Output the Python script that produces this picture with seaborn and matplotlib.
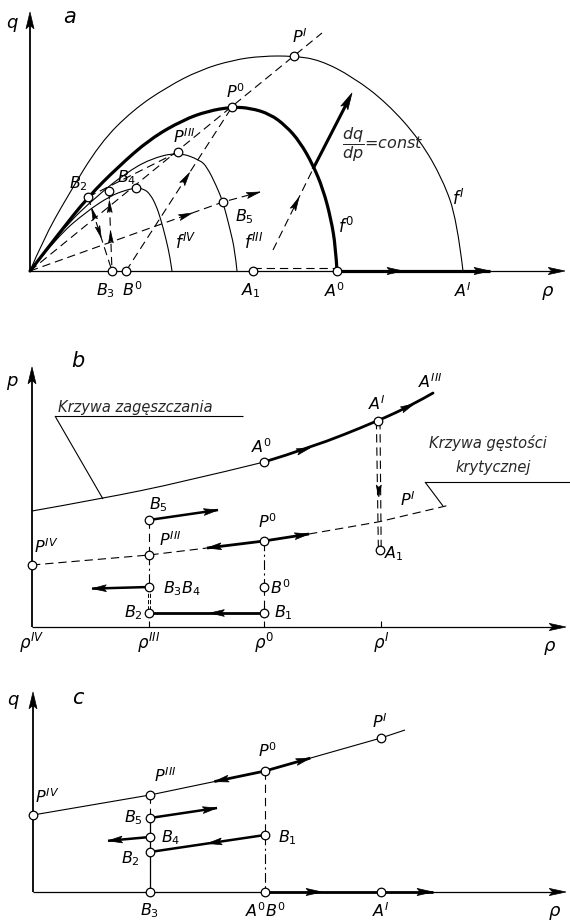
import numpy as np
import matplotlib
matplotlib.use("Agg")
import matplotlib.pyplot as plt
from matplotlib.path import Path
from matplotlib.patches import PathPatch
import seaborn as sns

sns.set_theme(style="white")
plt.rcParams["font.family"] = ["DejaVu Sans"]
plt.rcParams["mathtext.fontset"] = "dejavusans"
plt.rcParams["mathtext.default"] = "it"
plt.rcParams["lines.scale_dashes"] = False

# ---------------- panel a: flow q against density rho ----------------
f1_rho = [0, 3.25, 9.25, 17.5, 25.75, 34.25, 42.5, 50.75, 58, 66, 72.5, 80.75, 89.25, 97.5, 103.25, 106.75, 108.25]
f1_q = [0, 7.75, 18.5, 32, 40.25, 46, 50.25, 52.75, 53.75, 53.75, 52.75, 48.5, 42, 32.75, 22.75, 12.75, 0]

f0_rho = [0, 7.5, 14.5, 22, 30, 38.25, 44.5, 50.5, 55, 60, 64, 67.5, 70.75, 73.25, 75.25, 76.4, 76.75]
f0_q = [0, 9.75, 18.5, 26, 33, 37.75, 40, 41, 40.75, 39.25, 36.25, 32.25, 26.5, 20.5, 13, 6, 0]

f3_rho = [0, 8, 17, 24, 30, 37, 42.5, 44.25, 46.5, 48.25, 50, 51.25, 51.75]
f3_q = [0, 10.5, 19, 24.5, 28, 29.75, 27.75, 26, 21.5, 17.25, 10.5, 5, 0]

f4_rho = [0, 7, 14, 20, 24, 26.5, 28.5, 30, 31.5, 32.75, 34, 35, 35.5]
f4_q = [0, 8.75, 14.75, 18.75, 20.25, 20.75, 20.5, 19.25, 16.5, 12.75, 8, 3.5, 0]

a_names = ["PI", "P0", "PIII", "B4", "Bx", "B2", "B5", "B3", "B0", "A1", "A0", "AI"]
a_rho = [66, 50.5, 37, 26.5, 19.75, 14.5, 48.25, 20.5, 24, 55.75, 76.75, 108.25]
a_q = [53.75, 41, 29.75, 20.75, 20, 18.5, 17.25, 0, 0, 0, 0, 0]

ray_end = (73, 59.5)          # constant-speed ray through the peaks
b5_ray_end = (57.5, 19.75)    # continuation of the ray through B5
dq_start = (60.75, 5.25)      # characteristic dq/dp = const
dq_cross = (70.75, 25.5)
dq_end = (80.5, 44.5)

# ---------------- panel b: space / density picture ----------------
zag_rho = [0, 17, 37.75, 58, 69.5, 86.5, 95.5, 100.25]     # krzywa zageszczania
zag_p = [29, 32, 36.25, 41.25, 44.75, 51.5, 55.75, 58.5]
kr_rho = [0, 29.25, 43.75, 58, 69.25, 86.5, 104.5]        # krzywa gestosci krytycznej
kr_p = [15.5, 18, 19.75, 21.5, 23.25, 26.25, 30.5]

b_names = ["A0", "AI", "A1", "P0", "PIII", "PIV", "B5", "B34", "B2", "B1", "B0"]
b_rho = [58, 86.5, 87, 58, 29.25, 0, 29.25, 29.25, 29.25, 58, 58]
b_p = [41.25, 51.5, 19.25, 21.5, 18, 15.5, 26.75, 10, 3.5, 3.5, 10]
b_ticks = [0, 29.25, 58, 87.25]
b_tick_labels = [r"$\rho^{IV}$", r"$\rho^{III}$", r"$\rho^{0}$", r"$\rho^{I}$"]

# ---------------- panel c: flow q against density rho ----------------
c_line_rho = [0, 29.25, 58, 87, 93]
c_line_q = [19.25, 24.25, 30.25, 38.5, 40.5]
c_names = ["PIV", "PIII", "P0", "PI", "B5", "B4", "B2", "B1", "B3", "A0B0", "AI"]
c_rho = [0, 29.25, 58, 87, 29.25, 29.25, 29.25, 58, 29.25, 58, 87]
c_q = [19.25, 24.25, 30.25, 38.5, 18.5, 13.75, 10, 14.25, 0, 0, 0]

W, H, S = 570, 922, 4.0
fig = plt.figure(figsize=(W / 100, H / 100), dpi=100)
fig.patch.set_facecolor("white")

DASH = (0, (6, 3.5))
DASHDOT = (0, (7, 2.5, 1.5, 2.5))


def panel(ox, oy, top, bottom):
    ax = fig.add_axes([0, 1 - bottom / H, 1, (bottom - top) / H])
    ax.set_facecolor("none")
    ax.axis("off")
    ax._lims = ((-ox / S, (W - ox) / S), ((oy - bottom) / S, (oy - top) / S))
    return ax


def finish(ax):
    ax.set_xlim(*ax._lims[0])
    ax.set_ylim(*ax._lims[1])


def seg(ax, xs, ys, lw=0.8, ls="-"):
    sns.lineplot(x=list(xs), y=list(ys), ax=ax, color="black", lw=lw, linestyle=ls,
                 sort=False, estimator=None, errorbar=None, solid_capstyle="butt")


def smooth(ax, xs, ys, lw=0.8, ls="-"):
    pts = np.column_stack([xs, ys]).astype(float)
    verts, codes = [pts[0]], [Path.MOVETO]
    n = len(pts)
    for i in range(1, n - 1):
        end = (pts[i] + pts[i + 1]) / 2 if i < n - 2 else pts[i + 1]
        verts += [pts[i], end]
        codes += [Path.CURVE3, Path.CURVE3]
    ax.add_patch(PathPatch(Path(verts, codes), fill=False, lw=lw, ec="black",
                           ls=ls, capstyle="round", joinstyle="round"))


def head(ax, tip, frm, length=3.4, width=0.75):
    tip = np.asarray(tip, float)
    u = tip - np.asarray(frm, float)
    u /= np.hypot(*u)
    n = np.array([-u[1], u[0]])
    base = tip - length * u
    notch = tip - 0.8 * length * u
    poly = np.array([tip, base + width * n, notch, base - width * n])
    ax.fill(poly[:, 0], poly[:, 1], color="black", lw=0.5, zorder=4)


def head_on(ax, p0, p1, t, reverse=False, **kw):
    p0, p1 = np.asarray(p0, float), np.asarray(p1, float)
    tip = p0 + t * (p1 - p0)
    if reverse:
        head(ax, tip, tip + (p1 - p0), **kw)
    else:
        head(ax, tip, tip - (p1 - p0), **kw)


def circles(ax, xs, ys):
    sns.scatterplot(x=list(xs), y=list(ys), ax=ax, s=38, marker="o", facecolor="white",
                    edgecolor="black", linewidth=0.9, zorder=6, legend=False)


def lab(ax, x, y, s, size=11.5, **kw):
    ax.text(x, y, s, fontsize=size, ha="center", va="center", color="black", **kw)


# =================== panel a ===================
axA = panel(30, 271, 0, 305)
A = dict(zip(a_names, zip(a_rho, a_q)))

smooth(axA, f1_rho, f1_q, lw=0.8)
smooth(axA, f0_rho, f0_q, lw=2.3)
smooth(axA, f3_rho, f3_q, lw=0.8)
smooth(axA, f4_rho, f4_q, lw=0.8)

# axes
seg(axA, [0, 0], [0, 62], lw=1.3)
head(axA, (0, 64.75), (0, 0), length=4.2, width=1.0)
seg(axA, [0, 131], [0, 0], lw=0.9)
head(axA, (133.75, 0), (0, 0), length=4.2, width=0.9)
seg(axA, [A["A0"][0], 115], [0, 0], lw=2.3)
head(axA, (93.25, 0), (0, 0), length=4.0, width=0.9)
head(axA, (115, 0), (0, 0), length=4.0, width=0.9)
seg(axA, [A["A1"][0], A["A0"][0]], [0.8, 0.8], lw=0.8, ls=DASH)

# rays and wave paths
seg(axA, [0, ray_end[0]], [0, ray_end[1]], ls=DASH)
seg(axA, [0, A["B5"][0], b5_ray_end[0]], [0, A["B5"][1], b5_ray_end[1]], ls=DASH)
head_on(axA, (0, 0), A["B5"], 0.84)
head(axA, b5_ray_end, A["B5"])
seg(axA, [A["B0"][0], A["P0"][0]], [A["B0"][1], A["P0"][1]], ls=DASH)
head_on(axA, A["B0"], A["P0"], 0.6)
seg(axA, [A["B2"][0], A["PIII"][0]], [A["B2"][1], A["PIII"][1]], ls=DASH)
seg(axA, [A["B2"][0], A["B3"][0]], [A["B2"][1], A["B3"][1]], ls=DASH)
head_on(axA, A["B3"], A["B2"], 0.85, length=3.0, width=0.6)
head_on(axA, A["B2"], A["B3"], 0.55, length=3.0, width=0.6)
seg(axA, [A["Bx"][0], A["B3"][0]], [A["Bx"][1], A["B3"][1]], ls=DASH)
head_on(axA, A["B3"], A["Bx"], 0.88, length=3.0, width=0.6)
head_on(axA, A["B3"], A["Bx"], 0.5, length=3.0, width=0.6)

seg(axA, [dq_start[0], dq_cross[0]], [dq_start[1], dq_cross[1]], ls=DASH)
head_on(axA, dq_start, dq_cross, 0.65)
seg(axA, [dq_cross[0], dq_end[0] - 0.6], [dq_cross[1], dq_end[1] - 1.2], lw=2.2)
head(axA, dq_end, dq_cross, length=4.2, width=1.0)

pts_a = [n for n in a_names if n != "AI"]
circles(axA, [A[n][0] for n in pts_a], [A[n][1] for n in pts_a])

lab(axA, -4.5, 61.5, r"$q$", size=13)
lab(axA, 10, 63.5, r"$a$", size=15)
lab(axA, 129.5, -5.5, r"$\rho$", size=13)
lab(axA, 67.5, 58.5, r"$P^{I}$")
lab(axA, 51.5, 44.8, r"$P^{0}$")
lab(axA, 38.5, 33.5, r"$P^{III}$")
lab(axA, 12, 21.75, r"$B_2$")
lab(axA, 24.25, 23.25, r"$B_4$")
lab(axA, 53.5, 13.5, r"$B_5$")
lab(axA, 39, 7, r"$f^{IV}$", size=12)
lab(axA, 56, 7, r"$f^{III}$", size=12)
lab(axA, 79, 11, r"$f^{0}$", size=12)
lab(axA, 107, 18, r"$f^{I}$", size=12)
lab(axA, 19, -4.8, r"$B_3$")
lab(axA, 25.5, -4.6, r"$B^{0}$")
lab(axA, 55.25, -5, r"$A_1$")
lab(axA, 76.25, -5, r"$A^{0}$")
lab(axA, 108.25, -5, r"$A^{I}$")
axA.text(78.0, 31.5, r"$\dfrac{dq}{dp}$=const", fontsize=11.5, ha="left", va="center", style="italic")
finish(axA)

# =================== panel b ===================
axB = panel(32, 627, 330, 660)
B = dict(zip(b_names, zip(b_rho, b_p)))

seg(axB, [0, 0], [0, 62.5], lw=1.3)
head(axB, (0, 65), (0, 0), length=4.2, width=1.0)
seg(axB, [0, 131], [0, 0], lw=0.9)
head(axB, (133.5, 0), (0, 0), length=4.2, width=0.9)
for t in b_ticks[1:]:
    seg(axB, [t, t], [0, 1.6], lw=0.8)

# densification curve: thin up to A0, heavy beyond
k = zag_rho.index(B["A0"][0])
smooth(axB, zag_rho[:k + 1], zag_p[:k + 1], lw=0.8)
smooth(axB, zag_rho[k:], zag_p[k:], lw=2.0)
head(axB, (69.5, 44.75), (57.75, 41.25), length=3.4, width=0.8)
head(axB, (95.5, 55.75), (86.5, 51.5), length=3.4, width=0.8)

# critical density curve
seg(axB, kr_rho[:3], kr_p[:3], ls=DASH)
seg(axB, kr_rho[2:5], kr_p[2:5], lw=2.0)
head(axB, (kr_rho[2], kr_p[2]), (kr_rho[3], kr_p[3]), length=3.6, width=0.85)
head(axB, (kr_rho[4], kr_p[4]), (kr_rho[3], kr_p[3]), length=3.6, width=0.85)
seg(axB, kr_rho[4:], kr_p[4:], ls=DASH)

# verticals
x3, x0 = B["PIII"][0], B["P0"][0]
seg(axB, [x3, x3], [B["B5"][1], B["PIII"][1]], ls=DASH)
seg(axB, [x3, x3], [B["PIII"][1], B["B34"][1]], ls=DASHDOT)
seg(axB, [x3 - 0.3, x3 - 0.3], [B["B34"][1], B["B2"][1]], lw=0.7, ls=(0, (3, 1.5)))
seg(axB, [x3 + 0.3, x3 + 0.3], [B["B34"][1], B["B2"][1]], lw=0.7, ls=(0, (3, 1.5)))
seg(axB, [x0, x0], [B["P0"][1], B["B0"][1]], ls=DASHDOT)
seg(axB, [x0, x0], [B["B0"][1], B["B1"][1]], ls=DASH)
seg(axB, [B["AI"][0] - 0.4, B["A1"][0] - 0.4], [B["AI"][1], B["A1"][1]], lw=0.8, ls=DASH)
seg(axB, [B["AI"][0] + 0.5, B["A1"][0] + 0.3], [B["AI"][1], B["A1"][1]], lw=0.8, ls=DASH)
head(axB, (86.7, 32.5), (86.7, 40), length=3.0, width=0.65)

# horizontal moves of B points
seg(axB, [B["B1"][0], B["B2"][0]], [B["B1"][1], B["B2"][1]], lw=2.0)
head(axB, (44.5, 3.5), (58, 3.5), length=3.6, width=0.85)
seg(axB, [B["B5"][0], 46.5], [B["B5"][1], 29.25], lw=1.8)
head(axB, (46.5, 29.25), B["B5"], length=3.6, width=0.85)
seg(axB, [B["B34"][0], 15], [B["B34"][1], 9.6], lw=1.8)
head(axB, (15, 9.6), B["B34"], length=3.6, width=0.85)

circles(axB, b_rho, b_p)

# callouts
axB.text(6.5, 55, "Krzywa zagęszczania", fontsize=10.5, style="italic", ha="left", va="center")
seg(axB, [5.75, 52.75], [52.75, 52.75], lw=0.8)
seg(axB, [5.75, 17.75], [52.75, 32], lw=0.8)
axB.text(99.2, 46, "Krzywa gęstości", fontsize=10.5, style="italic", ha="left", va="center")
axB.text(105.75, 40, "krytycznej", fontsize=10.5, style="italic", ha="left", va="center")
seg(axB, [98.25, 135], [36.25, 36.25], lw=0.8)
seg(axB, [98.25, 102.75], [36.25, 30.25], lw=0.8)

lab(axB, -5, 61, r"$p$", size=13)
lab(axB, 11.5, 66.5, r"$b$", size=15)
lab(axB, 57.5, 45.2, r"$A^{0}$")
lab(axB, 86.25, 55.8, r"$A^{I}$")
lab(axB, 99.5, 61.3, r"$A^{III}$")
lab(axB, 94, 31.8, r"$P^{I}$")
lab(axB, 59, 26.3, r"$P^{0}$")
lab(axB, 31.5, 30.5, r"$B_5$")
lab(axB, 34.5, 21.8, r"$P^{III}$")
lab(axB, 3.5, 20.2, r"$P^{IV}$")
lab(axB, 62, 9.8, r"$B^{0}$")
lab(axB, 37.5, 9.6, r"$B_3B_4$")
lab(axB, 25.3, 3.6, r"$B_2$")
lab(axB, 62.8, 3.6, r"$B_1$")
lab(axB, 90.5, 18.3, r"$A_1$")
for t, s in zip(b_ticks, b_tick_labels):
    lab(axB, t, -4.0, s, size=12)
lab(axB, 129.5, -5.2, r"$\rho$", size=13)
finish(axB)

# =================== panel c ===================
axC = panel(33, 892, 670, 922)
C = dict(zip(c_names, zip(c_rho, c_q)))

seg(axC, [0, 0], [0, 47.5], lw=1.3)
head(axC, (0, 50), (0, 0), length=4.2, width=1.0)
seg(axC, [0, 131], [0, 0], lw=0.9)
head(axC, (133.25, 0), (0, 0), length=4.2, width=0.9)
seg(axC, [C["A0B0"][0], 100], [0, 0], lw=2.0)
head(axC, (72.25, 0), (0, 0), length=4.0, width=0.9)
head(axC, (100, 0), (0, 0), length=4.0, width=0.9)

seg(axC, c_line_rho, c_line_q, lw=0.8)
p0 = np.array(C["P0"])
pl = p0 + 0.44 * (np.array(C["PIII"]) - p0)
pr = p0 + 0.39 * (np.array(C["PI"]) - p0)
seg(axC, [pl[0], p0[0], pr[0]], [pl[1], p0[1], pr[1]], lw=2.0)
head(axC, pl, p0, length=3.6, width=0.85)
head(axC, pr, p0, length=3.6, width=0.85)

x3, x0 = C["PIII"][0], C["P0"][0]
seg(axC, [x3, x3], [C["PIII"][1], C["B5"][1]], ls=DASH)
seg(axC, [x3, x3], [C["B5"][1], C["B3"][1]], lw=0.9)
seg(axC, [x0, x0], [C["P0"][1], C["B1"][1]], ls=DASH)
seg(axC, [x0, x0], [C["B1"][1], 0], ls=DASHDOT)

seg(axC, [C["B5"][0], 46], [C["B5"][1], 21], lw=1.8)
head(axC, (46, 21), C["B5"], length=3.6, width=0.85)
seg(axC, [C["B4"][0], 18.75], [C["B4"][1], 12.8], lw=1.8)
head(axC, (18.75, 12.8), C["B4"], length=3.6, width=0.85)
seg(axC, [C["B1"][0], C["B2"][0]], [C["B1"][1], C["B2"][1]], lw=1.8)
head_on(axC, C["B1"], C["B2"], 0.5, length=3.6, width=0.85)

circles(axC, c_rho, c_q)

lab(axC, -5, 47.5, r"$q$", size=13)
lab(axC, 11.5, 48.5, r"$c$", size=15)
lab(axC, 3.5, 23.8, r"$P^{IV}$")
lab(axC, 33, 29, r"$P^{III}$")
lab(axC, 58.75, 35.3, r"$P^{0}$")
lab(axC, 86.75, 42.6, r"$P^{I}$")
lab(axC, 25, 18.6, r"$B_5$")
lab(axC, 34.5, 13.6, r"$B_4$")
lab(axC, 24.3, 8.4, r"$B_2$")
lab(axC, 63.5, 13.6, r"$B_1$")
lab(axC, 29.25, -4.6, r"$B_3$")
lab(axC, 58, -4.6, r"$A^{0}B^{0}$")
lab(axC, 87, -4.6, r"$A^{I}$")
lab(axC, 130.5, -5.2, r"$\rho$", size=13)
finish(axC)

fig.savefig("out.png", dpi=100, facecolor="white")
